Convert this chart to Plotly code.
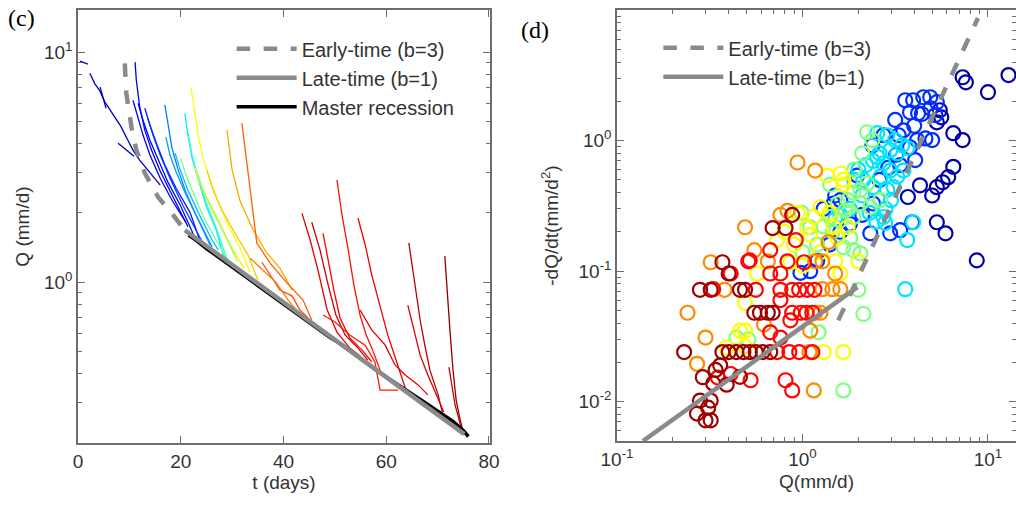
import plotly.graph_objects as go

# ---------------- panel (c): recession curves ----------------
early_t = [9.1, 9.4, 10.4, 11.35, 13.0, 15.6, 18.2, 20.8]
early_q = [8.93, 6.63, 4.73, 3.75, 2.98, 2.34, 2.0, 1.68]
late_t = [20.8, 75.2]
late_q = [1.68, 0.218]
master_t = [21.5, 23, 25, 27, 29, 31, 33, 35, 37, 39, 41, 43, 45, 47, 49, 51, 53, 55,
            57, 59, 61, 63, 65, 67, 69, 71, 73, 75, 76]
master_q = [1.60, 1.52, 1.40, 1.30, 1.21, 1.12, 1.04, 0.97, 0.90, 0.84, 0.78, 0.72, 0.67,
            0.625, 0.575, 0.54, 0.50, 0.465, 0.432, 0.40, 0.373, 0.35, 0.326, 0.305, 0.284,
            0.266, 0.248, 0.226, 0.213]

rec_t = [
    [0.4, 1.9],
    [2.3, 3.25, 4.2, 5.2, 5.85, 7.15, 8.4, 9.7, 10.7, 12.0, 13.6, 16.0],
    [4.3, 5.1, 5.45],
    [7.8, 9.35, 10.9],
    [11.1, 11.35, 12.0, 13.0, 14.3, 15.9, 17.5, 19.5, 21.4],
    [10.7, 11.5, 12.65, 14.0, 16.0, 18.3, 21.0],
    [11.7, 12.65, 14.0, 15.6, 17.5, 19.9, 22.8],
    [13.0, 14.0, 15.4, 16.9, 19.1, 21.8, 23.7],
    [13.6, 14.6, 16.0, 17.9, 20.4, 24.3],
    [16.9, 17.5, 18.3, 19.5, 21.0, 23.0, 26.1],
    [17.1, 17.9, 19.1, 20.8, 23.0, 25.7],
    [18.9, 19.9, 21.4, 23.4, 26.1, 27.3],
    [20.8, 21.4, 22.2, 23.4, 24.9, 26.9, 28.4],
    [21.4, 22.2, 23.4, 24.9, 26.9, 29.2],
    [20.0, 21.0, 22.6, 24.5, 26.9, 29.6],
    [22.0, 22.6, 23.4, 24.3, 25.7, 27.3, 29.2, 31.5, 33.5],
    [22.8, 23.7, 25.3, 27.3, 29.6, 32.3],
    [23.4, 24.3, 26.1, 28.6, 31.1],
    [25.1, 26.3, 28.0, 30.4, 33.1, 35.0],
    [29.0, 30.0, 31.5, 33.9, 36.6, 39.3, 41.7],
    [31.9, 32.9, 34.8, 37.4, 40.7, 43.8, 45.5],
    [35.8, 37.8, 39.3, 41.7, 43.2, 44.8],
    [33.5, 36.4, 38.5, 40.9, 42.8, 44.2],
    [43.6, 45.2, 46.7, 48.5, 50.4, 52.9, 54.9],
    [45.5, 47.1, 48.7, 50.2, 52.0, 54.5, 56.4],
    [47.7, 48.7, 49.8, 51.0, 52.9, 55.3, 57.2],
    [50.4, 51.4, 52.6, 53.7, 54.9, 56.1, 57.2, 58.8],
    [54.5, 55.9, 57.2, 58.8, 60.3, 61.9, 63.7],
    [64.4, 65.0, 65.8, 66.6, 67.5, 68.5, 70.1, 70.9],
    [64.2, 65.4, 66.6, 68.1, 69.7, 71.2],
    [71.4, 71.8, 72.4, 73.0, 73.6, 74.4, 74.9],
    [72.2, 72.8, 73.4, 74.2, 74.7],
    [47.7, 50.0, 52.9, 55.9, 57.8, 58.8, 62.3],
    [54.9, 57.2, 59.8, 61.7, 63.7, 66.2, 68.1],
]
rec_q = [
    [9.14, 8.87],
    [8.1, 7.3, 6.83, 6.08, 5.78, 5.2, 4.73, 4.14, 3.75, 3.39, 3.07, 2.64],
    [7.05, 6.18, 5.7],
    [4.02, 3.75, 3.53],
    [9.05, 7.55, 5.79, 4.58, 3.75, 3.07, 2.6, 2.13, 1.74],
    [6.18, 5.31, 4.36, 3.57, 2.83, 2.27, 1.82],
    [5.99, 5.06, 4.14, 3.39, 2.72, 2.16, 1.55],
    [5.7, 4.81, 3.94, 3.23, 2.56, 2.01, 1.52],
    [5.15, 4.36, 3.57, 2.83, 2.16, 1.48],
    [5.9, 4.81, 3.82, 3.07, 2.46, 1.95, 1.42],
    [4.27, 3.57, 3.01, 2.46, 1.95, 1.45],
    [3.64, 3.07, 2.51, 2.01, 1.52, 1.38],
    [5.42, 4.36, 3.46, 2.78, 2.16, 1.68, 1.28],
    [4.45, 3.57, 2.83, 2.23, 1.72, 1.22],
    [3.46, 2.92, 2.39, 1.90, 1.52, 1.19],
    [6.98, 5.59, 4.36, 3.46, 2.78, 2.23, 1.77, 1.41, 1.10],
    [3.16, 2.72, 2.27, 1.86, 1.45, 1.15],
    [2.92, 2.51, 2.06, 1.60, 1.22],
    [3.07, 2.51, 2.06, 1.65, 1.31, 1.02],
    [4.58, 3.07, 2.27, 1.72, 1.35, 1.15, 0.923],
    [4.91, 3.29, 1.48, 1.21, 0.99, 0.835, 0.684],
    [1.22, 1.04, 0.923, 0.869, 0.756, 0.698],
    [1.27, 1.10, 1.0, 0.835, 0.74, 0.698],
    [1.99, 1.52, 1.13, 0.756, 0.606, 0.516, 0.477],
    [1.82, 1.38, 0.97, 0.719, 0.588, 0.516, 0.458],
    [1.63, 1.25, 0.923, 0.698, 0.571, 0.506, 0.449],
    [2.78, 1.95, 1.38, 0.97, 0.719, 0.588, 0.516, 0.414],
    [1.90, 1.45, 1.07, 0.794, 0.588, 0.458, 0.346],
    [1.48, 1.19, 0.923, 0.684, 0.532, 0.414, 0.323, 0.272],
    [0.794, 0.618, 0.481, 0.394, 0.323, 0.272],
    [1.30, 0.923, 0.618, 0.414, 0.307, 0.251, 0.227],
    [0.427, 0.357, 0.292, 0.251, 0.227],
    [0.719, 0.67, 0.588, 0.532, 0.449, 0.339, 0.339],
    [0.756, 0.618, 0.532, 0.436, 0.394, 0.357, 0.323],
]
rec_c = [0.06, 0.06, 0.06, 0.06, 0.1, 0.12, 0.13, 0.15, 0.18, 0.25, 0.28, 0.31, 0.36,
         0.42, 0.48, 0.62, 0.64, 0.53, 0.68, 0.71, 0.78, 0.8, 0.76, 0.9, 0.93, 0.88,
         0.86, 0.89, 0.94, 0.91, 0.98, 0.93, 0.85, 0.9]

# ---------------- panel (d): -dQ/dt vs Q ----------------
early_r_q = [1.56, 8.83]
early_r_dq = [0.042, 8.7]
late_r_q = [0.138, 1.98]
late_r_dq = [0.005, 0.0755]

scat_q = [
    # dark blue
    12.9, 10.0, 7.3, 7.6, 6.5, 7.3, 5.5, 5.6, 5.3, 6.5, 6.1, 5.7, 5.3, 4.3, 5.0, 3.7, 5.3, 5.9, 8.7,
    # blue
    3.58, 3.95, 4.48, 4.88, 5.3, 3.8, 4.2, 4.9, 5.2, 2.73, 2.38, 3.8, 4.15, 4.6, 5.0, 1.97, 3.36,
    3.9, 2.97, 2.32, 1.47, 1.6, 0.975, 3.36, 4.05, 3.16,
    1.1, 1.2, 1.4, 1.6, 1.8, 2.1, 2.4, 1.3, 1.5, 2.6, 2.9, 3.2, 3.5, 4.0, 4.4, 3.3,
    # light blue / cyan
    2.86, 2.53, 3.16, 3.45, 3.67, 2.53, 2.73, 2.97, 3.24, 3.5, 2.63, 2.4, 2.86, 3.1, 3.67, 3.95,
    2.73, 2.79, 3.58, 2.13, 2.97, 3.24,
    2.0, 2.2, 2.4, 2.6, 1.9, 2.1, 2.3, 2.5, 1.8, 1.6, 2.8, 3.0, 1.5,
    # green
    2.23, 2.38, 2.23, 2.05, 1.88, 1.75, 2.05, 2.32, 2.63, 1.41, 1.41, 1.6, 1.88, 1.81, 1.66, 1.88,
    2.05, 2.0, 2.13, 1.66, 1.22, 1.1, 0.99, 0.44, 0.51,
    1.3, 1.45, 1.7, 1.55, 1.2, 1.0, 1.9, 2.1,
    # yellow
    1.36, 1.6, 1.66, 1.66, 1.25, 1.15, 1.47, 1.54, 1.75, 0.94, 0.73, 0.86, 0.57, 0.49, 0.46, 0.49,
    1.3, 1.66, 2.0, 1.5, 1.6, 1.06, 0.39, 0.49,
    1.1, 1.25, 1.0, 0.9, 0.8, 1.4,
    # orange
    0.94, 1.17, 0.49, 0.76, 0.83, 0.55, 0.32, 0.65, 0.38, 0.24, 0.30, 0.27, 1.15, 1.38, 1.1,
    1.17, 1.28, 1.5, 1.28, 1.45, 1.6, 1.17, 1.25, 1.09, 0.62,
    # red
    0.92, 0.67, 0.52, 0.41, 0.67, 0.76, 1.02, 0.51, 0.83, 0.56, 0.76, 0.88, 0.96, 1.06, 1.16, 0.88,
    0.98, 1.05, 1.13, 0.67, 0.76, 0.73, 0.85, 0.96, 1.13, 0.81, 0.88, 0.35, 0.41, 0.525, 0.33,
    0.76, 0.86,
    # dark red
    0.69, 0.81, 0.88, 0.37, 0.28, 0.32, 0.46, 0.49, 0.55, 0.59, 0.65, 0.69, 0.23, 0.37, 0.40, 0.44,
    0.48, 0.52, 0.56, 0.61, 0.67, 0.40, 0.34, 0.29, 0.33, 0.36, 0.31, 0.27, 0.30, 0.32, 0.28, 0.32,
    0.39, 0.46,
]
scat_dq = [
    3.18, 2.35, 3.06, 2.8, 1.14, 1.01, 1.71, 1.51, 1.38, 0.63, 0.525, 0.48, 0.44, 0.455, 0.38, 0.37,
    0.237, 0.195, 0.121,
    2.04, 2.04, 2.15, 2.15, 1.97, 1.65, 1.62, 1.77, 1.57, 1.10, 0.92, 0.89, 1.01, 1.04, 1.01, 0.54,
    0.206, 0.237, 0.195, 0.195, 0.33, 0.35, 0.097, 0.65, 0.71, 1.44,
    0.1, 0.12, 0.16, 0.2, 0.23, 0.27, 0.33, 0.3, 0.38, 0.5, 0.62, 0.78, 1.2, 1.3, 1.6, 1.1,
    1.10, 1.14, 1.01, 0.92, 0.88, 0.75, 0.67, 0.59, 0.53, 0.59, 0.53, 0.44, 0.42, 0.44, 0.173, 0.237,
    0.26, 0.234, 0.0728, 0.50, 0.845, 0.80,
    0.6, 0.65, 0.7, 0.8, 0.5, 0.38, 0.28, 0.24, 0.3, 0.27, 0.3, 0.35, 0.25,
    1.16, 1.01, 0.47, 0.42, 0.40, 0.35, 0.33, 0.31, 0.35, 0.46, 0.26, 0.245, 0.26, 0.18, 0.153, 0.145,
    0.137, 0.072, 0.047, 0.0122, 0.034, 0.217, 0.28, 0.031, 0.03,
    0.22, 0.2, 0.29, 0.33, 0.16, 0.14, 0.6, 0.8,
    0.54, 0.56, 0.50, 0.46, 0.31, 0.26, 0.217, 0.18, 0.217, 0.28, 0.173, 0.117, 0.096, 0.057, 0.035,
    0.035, 0.024, 0.024, 0.119, 0.119, 0.096, 0.217, 0.026, 0.0265,
    0.19, 0.14, 0.11, 0.16, 0.2, 0.28,
    0.68, 0.59, 0.217, 0.27, 0.29, 0.145, 0.117, 0.119, 0.072, 0.048, 0.031, 0.0195, 0.0122, 0.167,
    0.035, 0.119, 0.119, 0.096, 0.0728, 0.0728, 0.0728, 0.048, 0.048, 0.024, 0.039,
    0.173, 0.145, 0.121, 0.096, 0.096, 0.096, 0.117, 0.119, 0.119, 0.072, 0.072, 0.072, 0.072, 0.072,
    0.072, 0.048, 0.048, 0.048, 0.048, 0.034, 0.031, 0.024, 0.024, 0.024, 0.024, 0.0146, 0.0122,
    0.0153, 0.0163, 0.0146, 0.0728, 0.06, 0.042,
    0.214, 0.214, 0.27, 0.117, 0.072, 0.072, 0.072, 0.072, 0.048, 0.048, 0.048, 0.048, 0.024, 0.024,
    0.024, 0.024, 0.024, 0.024, 0.024, 0.024, 0.024, 0.096, 0.0175, 0.0154, 0.0138, 0.019, 0.009,
    0.0081, 0.0072, 0.0072, 0.0102, 0.0102, 0.0135, 0.0155,
]
scat_c = ([0.04] * 19 + [0.17] * 42 + [0.35] * 35 + [0.5] * 33 + [0.62] * 30 +
          [0.74] * 25 + [0.87] * 33 + [0.97] * 34)

# ---------------- styling ----------------
JET = [[0.0, "rgb(0,0,128)"], [0.125, "rgb(0,0,255)"], [0.375, "rgb(0,255,255)"],
       [0.625, "rgb(255,255,0)"], [0.875, "rgb(255,0,0)"], [1.0, "rgb(128,0,0)"]]


def jet(v):
    for (a, ca), (b, cb) in zip(JET[:-1], JET[1:]):
        if a <= v <= b:
            f = (v - a) / (b - a)
            pa = [int(x) for x in ca[4:-1].split(",")]
            pb = [int(x) for x in cb[4:-1].split(",")]
            return "rgb(%d,%d,%d)" % tuple(round(p + f * (q - p)) for p, q in zip(pa, pb))
    return JET[-1][1]


FONT = "Liberation Sans, Arial, sans-serif"
GRAY = "#8a8a8a"
AX = "#6e6e6e"
TXT = "#333333"

fig = go.Figure()

for t, q, c in zip(rec_t, rec_q, rec_c):
    fig.add_trace(go.Scatter(x=t, y=q, mode="lines", line=dict(color=jet(c), width=1.3),
                             showlegend=False, hoverinfo="skip", xaxis="x", yaxis="y"))

fig.add_trace(go.Scatter(x=master_t, y=master_q, mode="lines", name="Master recession",
                         line=dict(color="black", width=3.5), legend="legend",
                         legendrank=3, xaxis="x", yaxis="y"))
fig.add_trace(go.Scatter(x=early_t, y=early_q, mode="lines", name="Early-time (b=3)",
                         line=dict(color=GRAY, width=4.5, dash="dash"), legend="legend",
                         legendrank=1, xaxis="x", yaxis="y"))
fig.add_trace(go.Scatter(x=late_t, y=late_q, mode="lines", name="Late-time (b=1)",
                         line=dict(color=GRAY, width=4.5), legend="legend",
                         legendrank=2, xaxis="x", yaxis="y"))

fig.add_trace(go.Scatter(x=scat_q, y=scat_dq, mode="markers", showlegend=False,
                         marker=dict(symbol="circle-open", size=14, color=scat_c,
                                     colorscale=JET, cmin=0, cmax=1, line=dict(width=2.2)),
                         xaxis="x2", yaxis="y2"))
fig.add_trace(go.Scatter(x=early_r_q, y=early_r_dq, mode="lines", name="Early-time (b=3)",
                         line=dict(color=GRAY, width=4.5, dash="dash"), legend="legend2",
                         legendrank=1, xaxis="x2", yaxis="y2"))
fig.add_trace(go.Scatter(x=late_r_q, y=late_r_dq, mode="lines", name="Late-time (b=1)",
                         line=dict(color=GRAY, width=4.5), legend="legend2",
                         legendrank=2, xaxis="x2", yaxis="y2"))


def sup(e):
    return "10<sup>%s</sup>" % e


common = dict(showline=True, linecolor=AX, linewidth=1.5, mirror="allticks", ticks="inside",
              ticklen=7, tickcolor=AX, showgrid=False, zeroline=False, automargin=False,
              tickfont=dict(family=FONT, size=19, color=TXT))
minor_common = dict(ticks="inside", ticklen=4, tickcolor=AX, showgrid=False)

fig.update_layout(
    width=1016, height=506, margin=dict(l=0, r=0, t=0, b=0, autoexpand=False),
    paper_bgcolor="white", plot_bgcolor="white",
    xaxis=dict(domain=[0.0768, 0.4823], range=[0, 80.2], tickvals=[0, 20, 40, 60, 80],
               title=dict(text="t (days)", font=dict(family=FONT, size=19, color=TXT), standoff=4),
               anchor="y", **common),
    yaxis=dict(domain=[0.1245, 0.980], type="log", range=[-0.70, 1.183], tickvals=[1, 10],
               ticktext=[sup(0), sup(1)],
               minor=dict(tickvals=[0.3, 0.4, 0.5, 0.6, 0.7, 0.8, 0.9, 2, 3, 4, 5, 6, 7, 8, 9],
                          **minor_common),
               title=dict(text="Q (mm/d)", font=dict(family=FONT, size=19, color=TXT), standoff=9),
               anchor="x", **common),
    xaxis2=dict(domain=[0.6073, 1.0], type="log", range=[-1, 1.151], tickvals=[0.1, 1, 10],
                ticktext=[sup("-1"), sup(0), sup(1)],
                minor=dict(tickvals=[0.2, 0.3, 0.4, 0.5, 0.6, 0.7, 0.8, 0.9, 2, 3, 4, 5, 6, 7, 8, 9],
                           **minor_common),
                title=dict(text="Q(mm/d)", font=dict(family=FONT, size=19, color=TXT), standoff=6),
                anchor="y2", **common),
    yaxis2=dict(domain=[0.1285, 0.980], type="log", range=[-2.301, 1],
                tickvals=[0.01, 0.1, 1, 10], ticktext=[sup(-2), sup(-1), sup(0), sup(1)],
                minor=dict(tickvals=[0.006, 0.007, 0.008, 0.009, 0.02, 0.03, 0.04, 0.05, 0.06,
                                     0.07, 0.08, 0.09, 0.2, 0.3, 0.4, 0.5, 0.6, 0.7, 0.8, 0.9,
                                     2, 3, 4, 5, 6, 7, 8, 9], **minor_common),
                title=dict(text="-dQ/dt(mm/d<sup>2</sup>)",
                           font=dict(family=FONT, size=19, color=TXT), standoff=15),
                anchor="x2", **common),
    legend=dict(x=0.228, y=0.942, xanchor="left", yanchor="top", bgcolor="rgba(0,0,0,0)",
                font=dict(family=FONT, size=20, color=TXT), tracegroupgap=0, itemwidth=60),
    legend2=dict(x=0.648, y=0.944, xanchor="left", yanchor="top", bgcolor="rgba(0,0,0,0)",
                 font=dict(family=FONT, size=20, color=TXT), tracegroupgap=0, itemwidth=60),
    annotations=[
        dict(text="(c)", x=0.006, y=0.995, xref="paper", yref="paper", xanchor="left",
             yanchor="top", showarrow=False, font=dict(family="Liberation Serif, Times New Roman, serif",
                                                       size=24, color="black")),
        dict(text="(d)", x=0.511, y=0.97, xref="paper", yref="paper", xanchor="left",
             yanchor="top", showarrow=False, font=dict(family="Liberation Serif, Times New Roman, serif",
                                                       size=24, color="black")),
    ],
)

fig.write_html("out.html", config={"displayModeBar": False},
               post_script="document.body.style.margin='0';")
